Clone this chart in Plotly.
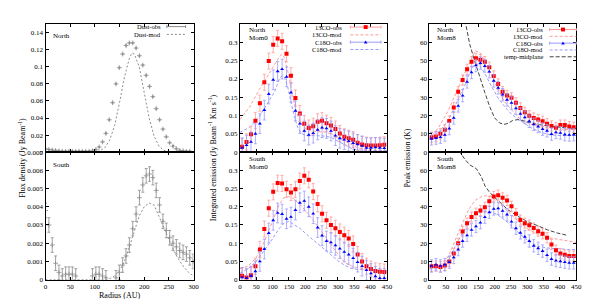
import plotly.graph_objects as go

W, H = 598, 299
SERIF = "Liberation Serif"

# ---------------- dust continuum (panel 1) ----------------
r_dust_n = [0, 6.8, 13.6, 20.4, 27.2, 34, 40.8, 47.6, 54.4, 61.2, 68, 74.8, 81.6, 88.4,
            95.2, 102, 108.8, 115.6, 122.4, 129.2, 136, 142.8, 149.6, 156.4, 163.2, 170,
            176.8, 183.6, 190.4, 197.2, 204, 210.8, 217.6, 224.4, 231.2, 238, 244.8,
            251.6, 258.4, 265.2, 272, 278.8, 285.6, 292.4]
dust_n = [0.004, 0.003, 0.0025, 0.002, 0.0015, 0.001, 0.001, 0.001, 0.001, 0.001, 0.001,
          0.001, 0.001, 0.001, 0.0015, 0.003, 0.006, 0.012, 0.022, 0.038, 0.058, 0.080,
          0.099, 0.115, 0.125, 0.128, 0.128, 0.122, 0.113, 0.102, 0.090, 0.077, 0.065,
          0.051, 0.038, 0.027, 0.018, 0.011, 0.007, 0.004, 0.002, 0.0015, 0.001, 0.001]
dust_n_err = 0.0008

r_dmod_n = [0, 50, 90, 100, 110, 120, 130, 140, 150, 160, 170, 175, 180, 190, 200, 210,
            220, 230, 240, 250, 260, 270, 300]
dmod_n = [0, 0, 0.0001, 0.0004, 0.0015, 0.005, 0.014, 0.031, 0.058, 0.088, 0.110, 0.116,
          0.115, 0.100, 0.070, 0.040, 0.019, 0.007, 0.002, 0.0005, 0.0001, 0, 0]

r_dust_s = [0, 6.8, 13.6, 20.4, 27.2, 34, 40.8, 47.6, 54.4, 61.2,
            95.2, 102, 108.8, 115.6, 122.4,
            142.8, 149.6, 156.4, 163.2, 170, 176.8, 183.6, 190.4, 197.2, 204, 210.8, 217.6,
            224.4, 231.2, 238, 244.8, 251.6, 258.4, 265.2, 272, 278.8, 285.6, 292.4, 299.2]
dust_s = [0.0038, 0.003, 0.0019, 0.0009, 0.0004, 0.0002, 0.0003, 0.0003, 0.0003, 0.0002,
          0.0002, 0.0003, 0.0003, 0.0002, 0.0001,
          0.0001, 0.0004, 0.0008, 0.0013, 0.0019, 0.0028, 0.0036, 0.0045, 0.0052, 0.0057,
          0.0058, 0.0056, 0.0049, 0.0041, 0.0032, 0.0027, 0.0023, 0.002, 0.0018, 0.0016,
          0.0015, 0.0014, 0.0012, 0.001]
dust_s_err = 0.0004

r_dmod_s = [0, 100, 120, 130, 140, 150, 160, 170, 180, 190, 200, 210, 220, 230, 240, 250,
            260, 270, 280, 290, 300]
dmod_s = [0, 0, 0, 0.00005, 0.0002, 0.0005, 0.001, 0.0018, 0.0027, 0.0035, 0.004, 0.0042,
          0.0041, 0.0035, 0.0028, 0.0022, 0.0016, 0.0011, 0.0007, 0.0004, 0.0002]

# ---------------- line data (panels 2 and 3) ----------------
r_line = [6.8, 20.4, 34.0, 47.6, 61.2, 74.8, 88.4, 102.0, 115.6, 129.2, 142.8, 156.4, 170.0,
          183.6, 197.2, 210.8, 224.4, 238.0, 251.6, 265.2, 278.8, 292.4, 306.0, 319.6,
          333.2, 346.8, 360.4, 374.0, 387.6, 401.2, 414.8, 428.4, 442.0]

co13_m0_n = [0.015, 0.028, 0.049, 0.086, 0.134, 0.191, 0.249, 0.294, 0.311, 0.303, 0.269,
             0.209, 0.148, 0.106, 0.078, 0.066, 0.071, 0.083, 0.086, 0.079, 0.073, 0.063,
             0.051, 0.042, 0.038, 0.034, 0.026, 0.021, 0.019, 0.018, 0.018, 0.019, 0.020]
c18o_m0_n = [0.012, 0.019, 0.028, 0.050, 0.078, 0.115, 0.159, 0.198, 0.221, 0.227, 0.206,
             0.163, 0.113, 0.078, 0.058, 0.047, 0.052, 0.061, 0.067, 0.065, 0.058, 0.045,
             0.038, 0.034, 0.030, 0.025, 0.021, 0.017, 0.012, 0.012, 0.013, 0.012, 0.011]
co13_m0_s = [0.011, 0.006, 0.012, 0.037, 0.083, 0.139, 0.196, 0.241, 0.265, 0.264, 0.248,
             0.239, 0.248, 0.271, 0.285, 0.274, 0.242, 0.208, 0.181, 0.163, 0.150, 0.141,
             0.131, 0.122, 0.113, 0.098, 0.069, 0.050, 0.037, 0.029, 0.024, 0.022, 0.021]
c18o_m0_s = [0.006, 0.004, 0.010, 0.023, 0.050, 0.084, 0.128, 0.163, 0.183, 0.180, 0.167,
             0.172, 0.191, 0.211, 0.216, 0.200, 0.181, 0.143, 0.121, 0.106, 0.102, 0.094,
             0.085, 0.076, 0.069, 0.059, 0.048, 0.037, 0.026, 0.017, 0.009, 0.004, 0.004]
m0_err_13 = 0.022
m0_err_18 = 0.027

r_m0mod = [0, 30, 60, 85, 106, 121, 129, 136, 146, 157, 167, 177, 187, 200, 220, 240, 260,
           280, 300, 320, 340, 360, 380, 400, 420, 450]
co13_m0mod_n = [0.089, 0.124, 0.172, 0.207, 0.237, 0.261, 0.268, 0.259, 0.224, 0.176,
                0.132, 0.099, 0.080, 0.065, 0.058, 0.056, 0.055, 0.050, 0.040, 0.030, 0.020,
                0.012, 0.008, 0.006, 0.005, 0.005]
c18o_m0mod_n = [0.054, 0.068, 0.098, 0.135, 0.165, 0.200, 0.209, 0.205, 0.180, 0.135, 0.095,
                0.068, 0.052, 0.046, 0.045, 0.045, 0.044, 0.040, 0.030, 0.019, 0.011, 0.006,
                0.005, 0.004, 0.004, 0.004]

r_m0mod_s = [0, 25, 50, 75, 100, 120, 135, 150, 165, 185, 210, 240, 270, 300, 320, 340, 360,
             400, 450]
co13_m0mod_s = [0.030, 0.037, 0.060, 0.105, 0.160, 0.205, 0.225, 0.228, 0.222, 0.205, 0.180,
                0.145, 0.108, 0.070, 0.048, 0.038, 0.033, 0.027, 0.020]
c18o_m0mod_s = [0.017, 0.030, 0.050, 0.080, 0.112, 0.140, 0.155, 0.160, 0.152, 0.140, 0.120,
                0.098, 0.075, 0.052, 0.040, 0.031, 0.028, 0.026, 0.024]

co13_m8_n = [8.2, 8.5, 10, 12.2, 17, 24.4, 33, 39.4, 45.3, 49.5, 51.3, 50.6, 49.5, 46.4,
             41.7, 37.3, 33.1, 31, 29.7, 27, 24.2, 21.8, 19.9, 18.7, 17.8, 16.9, 15.5, 14.3,
             13.4, 14.8, 14.8, 14, 13.6]
c18o_m8_n = [7.3, 7.7, 8.2, 9.4, 12.9, 18.7, 25.3, 30.9, 38.4, 43.6, 47.4, 48.7, 47.1, 44,
             39, 35.2, 31.4, 28.6, 26.9, 23.9, 20.9, 19, 16.9, 15.2, 14, 12.6, 11.7, 9.9, 10.8,
             10.5, 9.6, 9.4, 9.6]
co13_m8_s = [7.3, 7.5, 7, 7.8, 9.9, 14.3, 20, 26.4, 31, 34.4, 36.5, 37.9, 39.7, 43, 45.6,
             46.4, 44.9, 43.5, 40.3, 36.2, 32.7, 31, 29.9, 28.3, 26.6, 25.2, 23, 19.3, 16.2,
             14.3, 13.6, 13, 13]
c18o_m8_s = [7.5, 8.2, 7.5, 8.2, 9.6, 12.2, 16.5, 21.2, 24.3, 27.3, 29.2, 31.3, 34.3, 37,
             38.8, 39.1, 37.7, 35.7, 31.8, 28.2, 25.7, 23.5, 21.2, 18.6, 17.2, 15.7, 13.4,
             11.3, 10.4, 10.1, 9.6, 9.2, 9.2]
m8_err_13 = 2.8
m8_err_18 = 3.4

r_m8mod = [0, 28, 59, 89, 110, 126, 140, 155, 170, 190, 210, 231, 251, 271, 291, 311, 342,
           372, 402, 450]
co13_m8mod_n = [7.3, 13.4, 23, 35.2, 44, 49.2, 55.5, 54.4, 50, 42.2, 34.4, 27.4, 23, 19.2,
                16.9, 15.2, 13.8, 13.1, 12.6, 12.2]
c18o_m8mod_n = [7, 10.8, 17.8, 28.6, 37, 44.5, 48.3, 47.4, 43, 36.1, 29.7, 24.8, 20.9, 18.1,
                15.7, 13.4, 10.8, 9.4, 9.1, 9.1]
r_temp_n = [95, 105, 114, 124, 140, 155, 170, 185, 200, 215, 228, 241, 255, 271, 291, 332,
            372, 450]
temp_n = [85, 76, 68, 58.8, 49.2, 40.5, 32.6, 24.8, 18.7, 16, 15.2, 15.7, 17.3, 17.8, 16.9,
          15.2, 14, 12.9]

r_m8mod_s = [0, 38, 59, 79, 100, 120, 140, 161, 175, 190, 210, 241, 271, 301, 332, 362, 392,
             423, 450]
co13_m8mod_s = [7.8, 8.5, 13, 21.7, 30.4, 38.3, 43.5, 45.7, 46.1, 45.6, 42.6, 37.4, 32.2,
                27.8, 24.9, 23.1, 22.1, 21.2, 20.5]
c18o_m8mod_s = [5.7, 6.4, 11.3, 18.3, 25.2, 31.3, 35.7, 37.2, 37.5, 37.2, 35.5, 31.3, 26.1,
                21.5, 18.3, 17.4, 16.9, 16.6, 16.5]
r_temp_s = [85, 94, 109, 124, 144, 159, 171, 185, 200, 241, 271, 301, 332, 362, 392, 423]
temp_s = [74, 70, 66, 63, 60.9, 56.5, 51.3, 47.8, 45.2, 38.3, 34.8, 31.8, 29.6, 27.3, 25.6,
          24.3]

# ---------------- styling ----------------
GRAY = "#8c8c8c"
RED, RED_LT = "#ff0000", "#ff9a9a"
BLUE, BLUE_LT = "#0000ff", "#9a9aff"
DARK = "#444444"

fig = go.Figure()


def obs(x, y, err, axes, color, err_color, symbol, size, cap=1.5):
    fig.add_trace(go.Scatter(
        x=x, y=y, mode="markers", xaxis=axes[0], yaxis=axes[1], showlegend=False,
        marker=dict(symbol=symbol, size=size, color=color,
                    line=dict(width=0.8 if "thin" in symbol else 0, color=color)),
        error_y=dict(type="constant", value=err, color=err_color, thickness=0.8, width=cap)))


def model(x, y, axes, color, dash="3px,2px"):
    fig.add_trace(go.Scatter(
        x=x, y=y, mode="lines", xaxis=axes[0], yaxis=axes[1], showlegend=False,
        line=dict(color=color, width=1, dash=dash)))


# panel 1
obs(r_dust_n, dust_n, dust_n_err, ("x", "y"), GRAY, GRAY, "cross-thin", 3.5, cap=1)
model(r_dmod_n, dmod_n, ("x", "y"), GRAY, "2px,2px")
obs(r_dust_s, dust_s, dust_s_err, ("x4", "y4"), GRAY, GRAY, "cross-thin", 3.5, cap=1.5)
model(r_dmod_s, dmod_s, ("x4", "y4"), GRAY, "2px,2px")

# panel 2
model(r_m0mod, co13_m0mod_n, ("x2", "y2"), RED_LT)
model(r_m0mod, c18o_m0mod_n, ("x2", "y2"), BLUE_LT)
obs(r_line, co13_m0_n, m0_err_13, ("x2", "y2"), RED, RED_LT, "square", 4)
obs(r_line, c18o_m0_n, m0_err_18, ("x2", "y2"), BLUE, BLUE_LT, "triangle-up", 3.5)
model(r_m0mod_s, co13_m0mod_s, ("x5", "y5"), RED_LT)
model(r_m0mod_s, c18o_m0mod_s, ("x5", "y5"), BLUE_LT)
obs(r_line, co13_m0_s, m0_err_13, ("x5", "y5"), RED, RED_LT, "square", 4)
obs(r_line, c18o_m0_s, m0_err_18, ("x5", "y5"), BLUE, BLUE_LT, "triangle-up", 3.5)

# panel 3
model(r_m8mod, co13_m8mod_n, ("x3", "y3"), RED_LT)
model(r_m8mod, c18o_m8mod_n, ("x3", "y3"), BLUE_LT)
model(r_temp_n, temp_n, ("x3", "y3"), DARK, "4px,2px")
obs(r_line, co13_m8_n, m8_err_13, ("x3", "y3"), RED, RED_LT, "square", 4)
obs(r_line, c18o_m8_n, m8_err_18, ("x3", "y3"), BLUE, BLUE_LT, "triangle-up", 3.5)
model(r_m8mod_s, co13_m8mod_s, ("x6", "y6"), RED_LT)
model(r_m8mod_s, c18o_m8mod_s, ("x6", "y6"), BLUE_LT)
model(r_temp_s, temp_s, ("x6", "y6"), DARK, "4px,2px")
obs(r_line, co13_m8_s, m8_err_13, ("x6", "y6"), RED, RED_LT, "square", 4)
obs(r_line, c18o_m8_s, m8_err_18, ("x6", "y6"), BLUE, BLUE_LT, "triangle-up", 3.5)

# ---------------- axes ----------------
axis = dict(showline=True, linecolor="black", linewidth=1, mirror="ticks", ticks="inside",
            ticklen=3, tickwidth=1, tickcolor="black", showgrid=False, zeroline=False,
            tickfont=dict(family=SERIF, size=7, color="black"))

xd = [[36 / W, 186 / W], [233 / W, 382 / W], [425 / W, 574 / W]]
yd_top = [1 - 144 / H, 1 - 12.5 / H]
yd_bot = [1 - 275 / H, 1 - 144 / H]

x_vals_300 = [0, 50, 100, 150, 200, 250, 300]
x_vals_450 = [0, 50, 100, 150, 200, 250, 300, 350, 400, 450]

layout_axes = {}
for i, (dom, rng, tv) in enumerate([(xd[0], [0, 300], x_vals_300),
                                    (xd[1], [0, 450], x_vals_450),
                                    (xd[2], [0, 450], x_vals_450)]):
    top, bot = i + 1, i + 4
    layout_axes["xaxis" if top == 1 else f"xaxis{top}"] = dict(
        axis, domain=dom, range=rng, tickvals=tv, showticklabels=False,
        anchor=f"y{top}" if top > 1 else "y")
    layout_axes[f"xaxis{bot}"] = dict(
        axis, domain=dom, range=rng, tickvals=tv, ticktext=[str(v) for v in tv], anchor=f"y{bot}")

y1_vals = [0, 0.02, 0.04, 0.06, 0.08, 0.1, 0.12, 0.14]
y4_vals = [0, 0.001, 0.002, 0.003, 0.004, 0.005, 0.006, 0.007]
y2_vals = [0, 0.05, 0.1, 0.15, 0.2, 0.25, 0.3]
y3_vals = [0, 10, 20, 30, 40, 50, 60]

layout_axes["yaxis"] = dict(axis, domain=yd_top, range=[0, 0.15], anchor="x",
                            tickvals=y1_vals, ticktext=[f"{v:g}" for v in y1_vals])
layout_axes["yaxis4"] = dict(axis, domain=yd_bot, range=[0, 0.007], anchor="x4",
                             tickvals=y4_vals, ticktext=[f"{v:g}" for v in y4_vals])
layout_axes["yaxis2"] = dict(axis, domain=yd_top, range=[0, 0.35], anchor="x2",
                             tickvals=y2_vals, ticktext=[f"{v:g}" for v in y2_vals])
layout_axes["yaxis5"] = dict(axis, domain=yd_bot, range=[0, 0.35], anchor="x5",
                             tickvals=y2_vals, ticktext=[f"{v:g}" for v in y2_vals])
layout_axes["yaxis3"] = dict(axis, domain=yd_top, range=[0, 70], anchor="x3",
                             tickvals=y3_vals, ticktext=[f"{v:g}" for v in y3_vals])
layout_axes["yaxis6"] = dict(axis, domain=yd_bot, range=[0, 70], anchor="x6",
                             tickvals=y3_vals, ticktext=[f"{v:g}" for v in y3_vals])

fig.update_layout(width=W, height=H, margin=dict(l=0, r=0, t=0, b=0),
                  paper_bgcolor="white", plot_bgcolor="white",
                  font=dict(family=SERIF, size=7, color="black"), **layout_axes)

# ---------------- text ----------------
annots = []
shapes = []


def px(x):
    return x / W


def py(y):
    return 1 - y / H


def text(x, y, s, size=7, anchor="left", angle=0):
    annots.append(dict(x=px(x), y=py(y), xref="paper", yref="paper", text=s, showarrow=False,
                       xanchor=anchor, yanchor="middle", textangle=angle, borderpad=0,
                       font=dict(family=SERIF, size=size, color="black")))


def key(xr, x0, x1, y, label, color, kind, err_color=None, symbol=None, dash="3px,2px"):
    text(xr, y, label, size=6.5, anchor="right")
    if kind == "line":
        shapes.append(dict(type="line", xref="paper", yref="paper", x0=px(x0), x1=px(x1),
                           y0=py(y), y1=py(y), line=dict(color=color, width=1, dash=dash)))
    else:
        c = err_color
        shapes.append(dict(type="line", xref="paper", yref="paper", x0=px(x0), x1=px(x1),
                           y0=py(y), y1=py(y), line=dict(color=c, width=1)))
        for xx in (x0, x1):
            shapes.append(dict(type="line", xref="paper", yref="paper", x0=px(xx), x1=px(xx),
                               y0=py(y - 1.5), y1=py(y + 1.5), line=dict(color=c, width=1)))
        xm = (x0 + x1) / 2
        if symbol == "square":
            shapes.append(dict(type="rect", xref="paper", yref="paper", x0=px(xm - 2),
                               x1=px(xm + 2), y0=py(y - 2), y1=py(y + 2),
                               fillcolor=color, line=dict(width=0)))
        elif symbol == "triangle":
            shapes.append(dict(type="path", xref="paper", yref="paper",
                               path=f"M {px(xm - 1.8)},{py(y + 1.3)} L {px(xm + 1.8)},{py(y + 1.3)} L {px(xm)},{py(y - 1.8)} Z",
                               fillcolor=color, line=dict(width=0)))


text(43, 25, "North")
text(43, 157, "South")
text(241, 18, "North")
text(241, 27, "Mom0")
text(241, 151, "South")
text(241, 159, "Mom0")
text(432, 18, "North")
text(432, 27, "Mom8")
text(432, 151, "South")
text(432, 159, "Mom8")

text(12, 150, "Flux density (Jy Beam<sup>-1</sup>)", size=8, anchor="center", angle=-90)
text(205, 150, "Integrated emission (Jy Beam<sup>-1</sup> Km s<sup>-1</sup>)", size=8,
     anchor="center", angle=-90)
text(403, 150, "Peak emission (K)", size=8, anchor="center", angle=-90)
text(111, 291, "Radius (AU)", size=8, anchor="center")

key(154, 159, 178, 15, "Dust-obs", GRAY, "err", err_color=GRAY)
key(154, 159, 178, 23, "Dust-mod", GRAY, "line", dash="2px,2px")

key(338, 345, 376, 15.5, "13CO-obs", RED, "err", err_color=RED_LT, symbol="square")
key(338, 345, 376, 23.5, "13CO-mod", RED_LT, "line")
key(338, 345, 376, 31, "C18O-obs", BLUE, "err", err_color=BLUE_LT, symbol="triangle")
key(338, 345, 376, 38.5, "C18O-mod", BLUE_LT, "line")

key(541, 547, 574, 18, "13CO-obs", RED, "err", err_color=RED_LT, symbol="square")
key(541, 547, 574, 25, "13CO-mod", RED_LT, "line")
key(541, 547, 574, 32, "C18O-obs", BLUE, "err", err_color=BLUE_LT, symbol="triangle")
key(541, 547, 574, 39, "C18O-mod", BLUE_LT, "line")
key(541, 547, 574, 46, "temp-midplane", DARK, "line", dash="4px,2px")

fig.update_layout(annotations=annots, shapes=shapes)

fig.write_html("out.html")
